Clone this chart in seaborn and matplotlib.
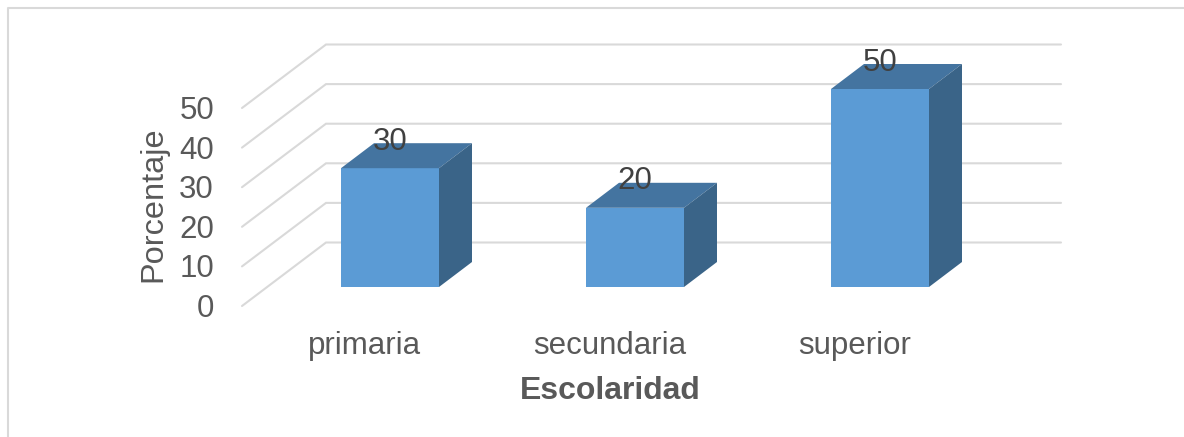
import matplotlib
matplotlib.use("Agg")
import matplotlib.pyplot as plt
import matplotlib.transforms as mtrans
from matplotlib.lines import Line2D
import pandas as pd
import seaborn as sns

categories = ["primaria", "secundaria", "superior"]
values = [30, 20, 50]
y_ticks = [0, 10, 20, 30, 40, 50]

W, H = 1184, 437
FRONT = "#5B9BD5"
TOP = "#4474A0"
SIDE = "#3A6488"
GRID = "#D9D9D9"
TEXT = "#595959"

sns.set_theme(style="white")
plt.rcParams["font.family"] = ["Liberation Sans", "DejaVu Sans"]

df = pd.DataFrame({"Escolaridad": categories, "Porcentaje": values})

fig = plt.figure(figsize=(W / 100, H / 100), dpi=100, facecolor="white")
# axes = the plane through the front of the bars, in pixels of the picture
left, right, bottom, top = 267.5, 1002.5, 287, 89
ax = fig.add_axes([left / W, 1 - bottom / H, (right - left) / W, (bottom - top) / H])
ax.patch.set_alpha(0)

sns.barplot(data=df, x="Escolaridad", y="Porcentaje", color=FRONT, saturation=1,
            width=0.4, linewidth=0, ax=ax, zorder=3)
ax.set_xlim(-0.5, 2.5)
ax.set_ylim(0, 50)
sns.despine(ax=ax, left=True, bottom=True)

# pixel offsets -> data units
px_x = (ax.get_xlim()[1] - ax.get_xlim()[0]) / (right - left)
px_y = (ax.get_ylim()[1] - ax.get_ylim()[0]) / (bottom - top)


def depth(dx, dy):
    return dx * px_x, dy * px_y


# walls: oblique lines from the front edge, then along the back wall
fx, fy = depth(-25.5, -19)
bx, by = depth(58.5, 44.5)
x0, x1 = ax.get_xlim()
for t in y_ticks:
    ax.plot([x0 + fx, x0 + bx, x1 + bx], [t + fy, t + by, t + by], color=GRID, lw=1.5,
            zorder=1, clip_on=False, solid_joinstyle="miter")

# top and side faces of the bars, value labels above them
ox, oy = depth(33, 25)
for bar, val in zip(list(ax.containers[0]), values):
    a, b = bar.get_x(), bar.get_x() + bar.get_width()
    h = bar.get_height()
    ax.fill([a, b, b + ox, a + ox], [h, h, h + oy, h + oy], color=TOP, lw=0, zorder=3, clip_on=False)
    ax.fill([b, b + ox, b + ox, b], [0, oy, h + oy, h], color=SIDE, lw=0, zorder=3, clip_on=False)
    bar.set_clip_on(False)
    ax.annotate(str(val), (a + bar.get_width() / 2, h), xytext=(0, 19), textcoords="offset points",
                ha="center", va="center", fontsize=22.5, color="#404040", zorder=5)

ax.set_yticks(y_ticks)
ax.set_xticks(range(len(categories)))
ax.set_xticklabels(categories)
ax.tick_params(axis="y", length=0, pad=38.5, labelsize=22.5, labelcolor=TEXT)
ax.tick_params(axis="x", length=0, pad=31.5, labelsize=22.5, labelcolor=TEXT)

# tick labels sit on the front edge of the floor
shift = mtrans.ScaledTranslation(0, -18.5 / 100, fig.dpi_scale_trans)
for lab in ax.get_yticklabels():
    lab.set_transform(lab.get_transform() + shift)
shift_x = mtrans.ScaledTranslation(-25 / 100, 0, fig.dpi_scale_trans)
for lab in ax.get_xticklabels():
    lab.set_transform(lab.get_transform() + shift_x)

ax.set_ylabel("Porcentaje", fontsize=23.4, color=TEXT, va="center", ha="center")
ax.yaxis.set_label_coords((153 - left) / (right - left), (bottom - 204) / (bottom - top))
ax.set_xlabel("Escolaridad", fontsize=23, color=TEXT, fontweight="bold", va="center", ha="center")
ax.xaxis.set_label_coords((610 - left) / (right - left), (bottom - 391) / (bottom - top))

# chart frame, cut by the picture edge
fig.add_artist(Line2D([8 / W, 8 / W, 1], [0, 1 - 8 / H, 1 - 8 / H], color=GRID, lw=1.5))

fig.savefig("out.png", dpi=100)
